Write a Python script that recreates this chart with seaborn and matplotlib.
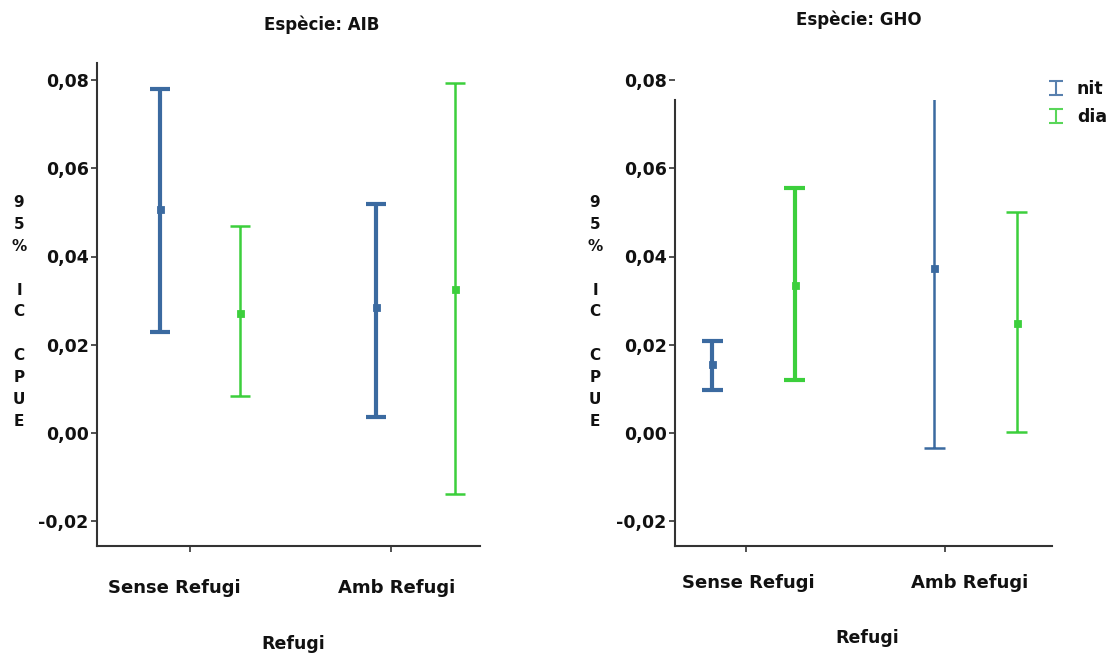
import numpy as np
import pandas as pd
import matplotlib
matplotlib.use("Agg")
import matplotlib.pyplot as plt
import seaborn as sns
from matplotlib.path import Path
from matplotlib.lines import Line2D
from matplotlib.transforms import Bbox, TransformedBbox

# ---------------- data ----------------
refugi = ["Sense Refugi", "Amb Refugi"]
periodes = ["nit", "dia"]
species = ["AIB", "GHO"]

aib_nit_mean = [0.0507, 0.0285]
aib_nit_low = [0.0229, 0.0036]
aib_nit_high = [0.0779, 0.0519]
aib_dia_mean = [0.0272, 0.0326]
aib_dia_low = [0.0084, -0.0138]
aib_dia_high = [0.0469, 0.0793]

gho_nit_mean = [0.0156, 0.0374]
gho_nit_low = [0.0097, -0.0034]
gho_nit_high = [0.0208, 0.0782]
gho_dia_mean = [0.0335, 0.0249]
gho_dia_low = [0.0120, 0.0002]
gho_dia_high = [0.0555, 0.0500]

ytick_values = [-0.02, 0.0, 0.02, 0.04, 0.06, 0.08]
ytick_labels = ["-0,02", "0,00", "0,02", "0,04", "0,06", "0,08"]
ylabel_text = "9\n5\n%\n\nI\nC\n\nC\nP\nU\nE"

series = {
    ("AIB", "nit"): (aib_nit_low, aib_nit_mean, aib_nit_high),
    ("AIB", "dia"): (aib_dia_low, aib_dia_mean, aib_dia_high),
    ("GHO", "nit"): (gho_nit_low, gho_nit_mean, gho_nit_high),
    ("GHO", "dia"): (gho_dia_low, gho_dia_mean, gho_dia_high),
}
rows = []
for (sp, per), (lo, me, hi) in series.items():
    for i, r in enumerate(refugi):
        for v in (lo[i], me[i], hi[i]):
            rows.append({"Especie": sp, "Periode": per, "Refugi": r, "CPUE": v})
df = pd.DataFrame(rows)

# ---------------- style ----------------
sns.set_theme(style="ticks")
plt.rcParams["font.family"] = ["DejaVu Sans"]
plt.rcParams["font.weight"] = "bold"

palette = {"nit": "#3b6aa0", "dia": "#3ccf3c"}
lw_style = {("AIB", "nit"): [3.0, 3.0], ("AIB", "dia"): [1.8, 1.8],
            ("GHO", "nit"): [3.0, 1.8], ("GHO", "dia"): [3.0, 1.8]}

W, H = 1113, 655
fig = plt.figure(figsize=(W / 100, H / 100), dpi=100)
fig.patch.set_facecolor("white")

# panel geometry in pixels
panels = {
    "AIB": dict(x0=97, x1=480, c0=200, unit=215.5, ticks=[190, 391], labs=[174, 397],
                xpad=24, title=(322, 25), xlab=(293, 644), ylab=(19, 312), spine_top=None),
    "GHO": dict(x0=675, x1=1052, c0=753.5, unit=222.0, ticks=[746, 945], labs=[748, 970],
                xpad=20, title=(859, 20), xlab=(867, 638), ylab=(595, 312), spine_top=0.0755),
}
y_top_px, y_bot_px = 63, 546
px_per_unit_y = 88.25 / 0.02
ylim = ((433 - y_bot_px) / px_per_unit_y, (433 - y_top_px) / px_per_unit_y)

for sp in species:
    g = panels[sp]
    ax = fig.add_axes([g["x0"] / W, (H - y_bot_px) / H, (g["x1"] - g["x0"]) / W,
                       (y_bot_px - y_top_px) / H])
    sub = df[df["Especie"] == sp]
    sns.pointplot(data=sub, x="Refugi", y="CPUE", hue="Periode", order=refugi,
                  hue_order=periodes, palette=palette, estimator="median",
                  errorbar=("pi", 100), dodge=0.37, capsize=0.092, markers="s",
                  linestyles="none", markersize=3.6, err_kws={"linewidth": 2},
                  legend=False, ax=ax)
    xl = (-(g["c0"] - g["x0"]) / g["unit"], (g["x1"] - g["c0"]) / g["unit"])
    ax.set_xlim(*xl)
    ax.set_ylim(*ylim)

    # adjust error-bar line widths per bar
    for ln in ax.lines:
        xd = np.asarray(ln.get_xdata(), dtype=float)
        if len(xd) == 8:
            xc = xd[3]
            cat = int(round(xc))
            per = "nit" if xc < cat else "dia"
            ln.set_linewidth(lw_style[(sp, per)][cat])
            ln.set_solid_capstyle("butt")

    # clip to the drawn spine on the right panel
    if g["spine_top"] is not None:
        bb = TransformedBbox(Bbox([[xl[0], ylim[0]], [xl[1], g["spine_top"]]]), ax.transData)
        for ln in ax.lines:
            ln.set_clip_box(bb)
        for c in ax.collections:
            c.set_clip_box(bb)
        ax.spines["left"].set_bounds(ylim[0], g["spine_top"])

    # y ticks
    ax.set_yticks(ytick_values)
    ax.set_yticklabels(ytick_labels, fontsize=12.5, fontweight="bold", color="#111111")
    ax.tick_params(axis="y", length=4, width=1.2, pad=2, color="#333333")

    # x ticks: marks at minor positions, labels at major positions
    tick_pos = [(t - g["c0"]) / g["unit"] for t in g["ticks"]]
    lab_pos = [(t - g["c0"]) / g["unit"] for t in g["labs"]]
    ax.set_xticks(lab_pos)
    ax.set_xticklabels(refugi, fontsize=13, fontweight="bold", color="#111111")
    ax.tick_params(axis="x", which="major", length=0, pad=g["xpad"])
    ax.set_xticks(tick_pos, minor=True)
    ax.tick_params(axis="x", which="minor", length=4, width=1.2, color="#333333")

    ax.set_xlabel("")
    ax.set_ylabel("")
    sns.despine(ax=ax)
    for s in ("left", "bottom"):
        ax.spines[s].set_linewidth(1.5)
        ax.spines[s].set_color("#333333")

    tx, ty = g["title"]
    fig.text(tx / W, 1 - ty / H, f"Espècie: {sp}", ha="center", va="center",
             fontsize=12, fontweight="bold", color="#111111")
    lx, ly = g["xlab"]
    fig.text(lx / W, 1 - ly / H, "Refugi", ha="center", va="center",
             fontsize=12.5, fontweight="bold", color="#111111")
    yx, yy = g["ylab"]
    fig.text(yx / W, 1 - yy / H, ylabel_text, ha="center", va="center",
             fontsize=11, fontweight="bold", color="#111111", linespacing=1.58)

# legend with error-bar shaped handles
ebar_marker = Path([(-1, 1), (1, 1), (0, 1), (0, -1), (-1, -1), (1, -1)],
                   [Path.MOVETO, Path.LINETO, Path.MOVETO, Path.LINETO, Path.MOVETO, Path.LINETO])
handles = [Line2D([], [], linestyle="none", marker=ebar_marker, markersize=10,
                  markeredgewidth=1.5, markeredgecolor=palette[p], markerfacecolor="none",
                  alpha=0.85)
           for p in periodes]
leg = fig.legend(handles, periodes, loc="upper left", bbox_to_anchor=(1030 / W, 1 - 64 / H),
                 frameon=False, handlelength=1.2, handletextpad=0.6, labelspacing=0.6,
                 prop={"size": 12.5, "weight": "bold"})
for t in leg.get_texts():
    t.set_color("#111111")

fig.savefig("out.png", dpi=100, facecolor="white")
